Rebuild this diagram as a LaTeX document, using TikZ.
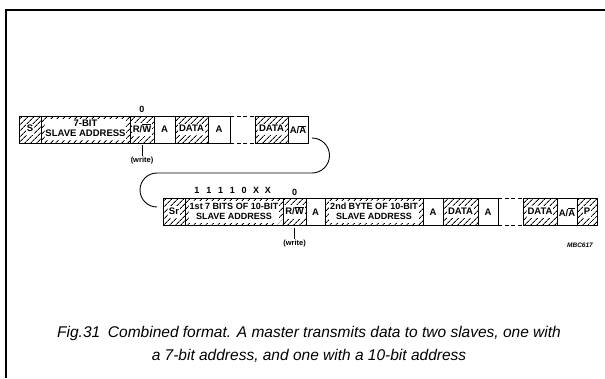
\documentclass[tikz,border=0pt]{standalone}
\usepackage{fontspec}
\setmainfont{Liberation Sans}
\usetikzlibrary{positioning,patterns.meta}

\tikzset{
  field/.style={draw, line width=0.9pt, minimum height=27pt, inner sep=0pt, outer sep=0pt,
    font=\fontsize{9.5}{10}\selectfont\bfseries},
  hatch/.style={field, pattern={Lines[angle=45,distance=4pt,line width=0.9pt]}},
  gapbox/.style={minimum height=27pt, inner sep=0pt, outer sep=0pt},
  gapline/.style={line width=0.9pt, dash pattern=on 4pt off 2.5pt},
  bits/.style={inner sep=1pt, font=\fontsize{9}{10}\selectfont\bfseries},
  note/.style={inner sep=1pt, font=\fontsize{7.5}{8}\selectfont\bfseries}
}
\newcommand{\wb}[1]{{\setlength{\fboxsep}{0.8pt}\colorbox{white}{\begin{tabular}{@{}c@{}}#1\end{tabular}}}}

\begin{document}
\begin{tikzpicture}[x=1pt,y=-1pt]
  \useasboundingbox (0,0) rectangle (605,378);
  \draw[line width=1.3pt] (6,378) -- (6,10) -- (605,10);

  % first transfer, 7-bit slave
  \node[hatch, minimum width=22pt, anchor=west] (s1) at (19,129.5) {\wb{S}};
  \node[hatch, minimum width=89pt, right=0pt of s1] (adr7) {\wb{7-BIT\\SLAVE ADDRESS}};
  \node[hatch, minimum width=24pt, right=0pt of adr7] (rw1) {\wb{R/$\overline{\mbox{W}}$}};
  \node[field, minimum width=21pt, right=0pt of rw1] (a1) {A};
  \node[hatch, minimum width=33pt, right=0pt of a1] (d1) {\wb{DATA}};
  \node[field, minimum width=22pt, right=0pt of d1] (a2) {A};
  \node[gapbox, minimum width=25pt, right=0pt of a2] (g1) {};
  \node[hatch, minimum width=33pt, right=0pt of g1] (d2) {\wb{DATA}};
  \node[field, minimum width=20pt, right=0pt of d2] (aa1) {A/$\overline{\mbox{A}}$};
  \draw[gapline] (g1.north west) -- (g1.north east) (g1.south west) -- (g1.south east);

  \node[bits, above=2pt of rw1] (z1) {0};
  \node[note, below=13pt of rw1] (w1) {(write)};
  \draw[line width=0.7pt] ([yshift=-2pt]rw1.south) -- (w1.north);

  % second transfer, 10-bit slave
  \node[hatch, minimum width=22pt, anchor=west] (sr) at (163,212) {\wb{Sr}};
  \node[hatch, minimum width=98pt, right=0pt of sr, font=\fontsize{9}{10}\selectfont\bfseries] (adr10a)
    {\wb{1st 7 BITS OF 10-BIT\\SLAVE ADDRESS}};
  \node[hatch, minimum width=23pt, right=0pt of adr10a] (rw2) {\wb{R/$\overline{\mbox{W}}$}};
  \node[field, minimum width=19pt, right=0pt of rw2] (a3) {A};
  \node[hatch, minimum width=98pt, right=0pt of a3, font=\fontsize{9}{10}\selectfont\bfseries] (adr10b)
    {\wb{2nd BYTE OF 10-BIT\\SLAVE ADDRESS}};
  \node[field, minimum width=20pt, right=0pt of adr10b] (a4) {A};
  \node[hatch, minimum width=35pt, right=0pt of a4] (d3) {\wb{DATA}};
  \node[field, minimum width=20pt, right=0pt of d3] (a5) {A};
  \node[gapbox, minimum width=25pt, right=0pt of a5] (g2) {};
  \node[hatch, minimum width=34pt, right=0pt of g2] (d4) {\wb{DATA}};
  \node[field, minimum width=20pt, right=0pt of d4] (aa2) {A/$\overline{\mbox{A}}$};
  \node[hatch, minimum width=20pt, right=0pt of aa2] (p) {\wb{P}};
  \draw[gapline] (g2.north west) -- (g2.north east) (g2.south west) -- (g2.south east);

  \foreach \c [count=\i] in {1,1,1,1,0,X,X}
    \node[bits] (b\i) at ({197+(\i-1)*11.8},190) {\c};
  \node[bits, above=2pt of rw2] (z2) {0};
  \node[note, below=13pt of rw2] (w2) {(write)};
  \draw[line width=0.7pt] ([yshift=-2pt]rw2.south) -- (w2.north);

  % repeated start link
  \draw[line width=0.9pt] ([shift={(4,8.5)}]aa1.east) arc[start angle=90, end angle=-90, radius=17.5pt]
    -- ([shift={(-6,-39)}]sr.west) arc[start angle=90, end angle=270, radius=17pt];

  \node[font=\fontsize{6.5}{7}\selectfont\bfseries\itshape] (code) at (580,245) {MBC617};

  \node[font=\fontsize{15.5}{23}\selectfont\itshape, align=center] (cap) at (309,344.5)
    {Fig.31\enspace Combined format. A master transmits data to two slaves, one with\\
     a 7-bit address, and one with a 10-bit address};
\end{tikzpicture}
\end{document}
